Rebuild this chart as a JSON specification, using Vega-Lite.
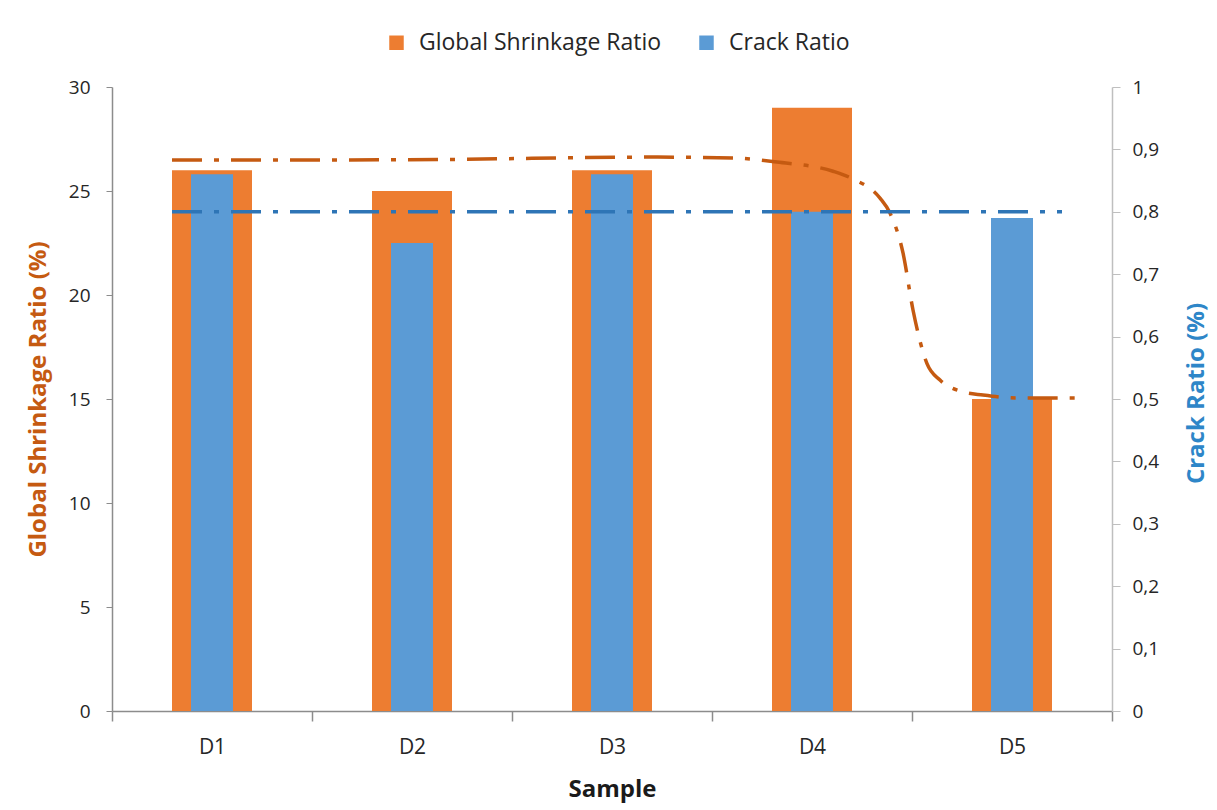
{
  "$schema": "https://vega.github.io/schema/vega-lite/v6.json",
  "width": 1000,
  "height": 624,
  "autosize": "none",
  "padding": {"left": 112, "top": 87, "right": 105, "bottom": 99},
  "background": "white",
  "config": {"view": {"stroke": null}, "font": "Open Sans"},
  "datasets": {
    "bars": [
      {"sample": "D1", "shrinkage": 26, "crack": 0.86},
      {"sample": "D2", "shrinkage": 25, "crack": 0.75},
      {"sample": "D3", "shrinkage": 26, "crack": 0.86},
      {"sample": "D4", "shrinkage": 29, "crack": 0.80},
      {"sample": "D5", "shrinkage": 15, "crack": 0.79}
    ],
    "shrinkTrend": [
      {"t": 0.3, "value": 26.49},
      {"t": 1.44, "value": 26.5},
      {"t": 2.69, "value": 26.63},
      {"t": 3.105, "value": 26.59},
      {"t": 3.325, "value": 26.39},
      {"t": 3.605, "value": 25.95},
      {"t": 3.7, "value": 25.6},
      {"t": 3.84, "value": 24.66},
      {"t": 3.89, "value": 23.94},
      {"t": 3.955, "value": 22.02},
      {"t": 4.005, "value": 19.28},
      {"t": 4.075, "value": 16.7},
      {"t": 4.14, "value": 15.91},
      {"t": 4.255, "value": 15.34},
      {"t": 4.355, "value": 15.19},
      {"t": 4.525, "value": 15.05},
      {"t": 4.84, "value": 15.05}
    ],
    "crackTrend": [
      {"t": 0.3, "value": 0.8},
      {"t": 4.75, "value": 0.8}
    ]
  },
  "layer": [
    {
      "data": {"name": "bars"},
      "mark": {"type": "bar", "width": {"band": 0.4}},
      "encoding": {
        "x": {
          "field": "sample", "type": "nominal",
          "scale": {"paddingInner": 0, "paddingOuter": 0},
          "axis": {
            "title": "Sample", "titleFontSize": 24, "titleFontWeight": "bold", "titleColor": "#1a1a1a",
            "titlePadding": 20,
            "labelAngle": 0, "labelFontSize": 21, "labelColor": "#262626", "labelPadding": 15,
            "tickBand": "extent", "tickSize": 10, "tickColor": "#8c8c8c", "domainColor": "#8c8c8c",
            "domainWidth": 1.5, "tickWidth": 1.5
          }
        },
        "y": {
          "field": "shrinkage", "type": "quantitative",
          "scale": {"domain": [0, 30]},
          "axis": {
            "orient": "left", "values": [0, 5, 10, 15, 20, 25, 30], "grid": false,
            "title": "Global Shrinkage Ratio (%)", "titleFontSize": 24, "titleFontWeight": "bold",
            "titleColor": "#C55A11", "titlePadding": 18,
            "labelFontSize": 19, "labelColor": "#262626", "labelPadding": 16,
            "tickSize": 6, "tickColor": "#8c8c8c", "domainColor": "#8c8c8c", "domainWidth": 1.5
          }
        },
        "color": {
          "datum": "Global Shrinkage Ratio", "type": "nominal",
          "scale": {"domain": ["Global Shrinkage Ratio", "Crack Ratio"], "range": ["#ED7D31", "#5B9BD5"]},
          "legend": {
            "orient": "none", "legendX": 273, "legendY": -56, "direction": "horizontal",
            "title": null, "symbolType": "square", "symbolSize": 210, "labelFontSize": 23,
            "labelLimit": 400, "labelColor": "#262626", "columnPadding": 33, "labelOffset": 11,
            "symbolStrokeWidth": 0
          }
        }
      }
    },
    {
      "data": {"name": "bars"},
      "mark": {"type": "bar", "width": {"band": 0.21}},
      "encoding": {
        "x": {"field": "sample", "type": "nominal", "scale": {"paddingInner": 0, "paddingOuter": 0}, "axis": null},
        "y": {
          "field": "crack", "type": "quantitative",
          "scale": {"domain": [0, 1]},
          "axis": {
            "orient": "right", "values": [0, 0.1, 0.2, 0.3, 0.4, 0.5, 0.6, 0.7, 0.8, 0.9, 1], "grid": false,
            "format": ".1~f", "labelExpr": "replace(datum.label, '.', ',')",
            "title": "Crack Ratio (%)", "titleFontSize": 24, "titleFontWeight": "bold",
            "titleColor": "#2E86C8", "titleAngle": 270, "titleX": 84, "titleY": 306,
            "titleBaseline": "middle", "titleAlign": "center",
            "labelFontSize": 19, "labelColor": "#262626", "labelPadding": 12,
            "tickSize": 8, "tickColor": "#bfbfbf", "domainColor": "#bfbfbf", "domainWidth": 1.5
          }
        },
        "color": {"datum": "Crack Ratio", "type": "nominal"}
      }
    },
    {
      "data": {"name": "shrinkTrend"},
      "mark": {"type": "line", "color": "#C55A11", "strokeWidth": 3.5, "strokeDash": [30, 12, 5, 12], "interpolate": "monotone"},
      "encoding": {
        "x": {"field": "t", "type": "quantitative", "scale": {"domain": [0, 5]}, "axis": null},
        "y": {"field": "value", "type": "quantitative", "scale": {"domain": [0, 30]}, "axis": null}
      }
    },
    {
      "data": {"name": "crackTrend"},
      "mark": {"type": "line", "color": "#2E75B6", "strokeWidth": 3.5, "strokeDash": [30, 12, 5, 12]},
      "encoding": {
        "x": {"field": "t", "type": "quantitative", "scale": {"domain": [0, 5]}, "axis": null},
        "y": {"field": "value", "type": "quantitative", "scale": {"domain": [0, 1]}, "axis": null}
      }
    }
  ],
  "resolve": {"scale": {"x": "independent", "y": "independent"}, "axis": {"x": "independent", "y": "independent"}}
}
